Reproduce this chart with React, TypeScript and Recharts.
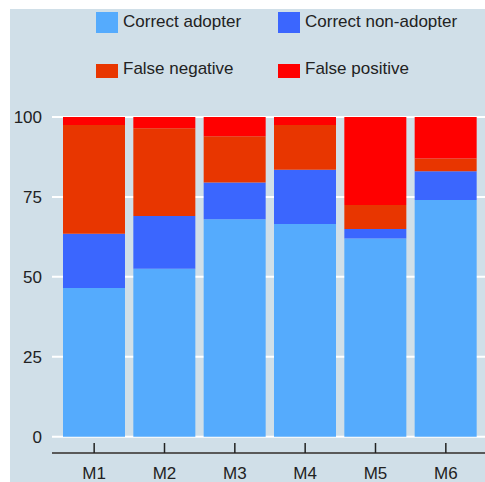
import React from 'react';
import { BarChart, Bar, XAxis, YAxis, CartesianGrid, Legend } from 'recharts';

const categories = ['M1', 'M2', 'M3', 'M4', 'M5', 'M6'];
const correctAdopter = [46.5, 52.5, 68, 66.5, 62, 74];
const correctNonAdopter = [17, 16.5, 11.5, 17, 3, 9];
const falseNegative = [34, 27.5, 14.5, 14, 7.5, 4];
const falsePositive = [2.5, 3.5, 6, 2.5, 27.5, 13];
const yTicks = [0, 25, 50, 75, 100];

const seriesNames = ['Correct adopter', 'Correct non-adopter', 'False negative', 'False positive'];
const seriesKeys = ['ca', 'cna', 'fn', 'fp'];
const seriesColors = ['#55abfd', '#3b66fe', '#e83600', '#ff0000'];

const data = categories.map((c, i) => ({
  name: c,
  ca: correctAdopter[i],
  cna: correctNonAdopter[i],
  fn: falseNegative[i],
  fp: falsePositive[i],
}));

const FONT = '"Liberation Sans", Arial, sans-serif';

const legendPos = [
  { sx: 86, sy: 3, sw: 22, sh: 21, tx: 113, ty: 13 },
  { sx: 268, sy: 3, sw: 22, sh: 21, tx: 295, ty: 13 },
  { sx: 86, sy: 55, sw: 22, sh: 14, tx: 113, ty: 60 },
  { sx: 268, sy: 55, sw: 22, sh: 14, tx: 295, ty: 60 },
];

const renderLegend = () => (
  <div style={{ position: 'relative', width: 475, height: 90, fontFamily: FONT }}>
    {seriesNames.map((n, i) => {
      const p = legendPos[i];
      return (
        <React.Fragment key={n}>
          <div
            style={{
              position: 'absolute',
              left: p.sx,
              top: p.sy,
              width: p.sw,
              height: p.sh,
              background: seriesColors[i],
            }}
          />
          <div
            style={{
              position: 'absolute',
              left: p.tx,
              top: p.ty - 10,
              height: 20,
              lineHeight: '20px',
              fontSize: 17,
              color: '#222',
              whiteSpace: 'nowrap',
            }}
          >
            {n}
          </div>
        </React.Fragment>
      );
    })}
  </div>
);

const XTick = (props: any) => {
  const { x, y, payload } = props;
  return (
    <g>
      <line x1={x} x2={x} y1={y - 10} y2={y} stroke="#222" strokeWidth={1.5} />
      <text
        x={x}
        y={y + 20}
        textAnchor="middle"
        dominantBaseline="central"
        fontSize={17}
        fontFamily={FONT}
        fill="#222"
      >
        {payload.value}
      </text>
    </g>
  );
};

export default function App() {
  return (
    <div
      style={{
        position: 'absolute',
        left: 10,
        top: 9,
        width: 475,
        height: 473,
        background: '#d0dfe8',
      }}
    >
      <BarChart
        width={475}
        height={473}
        data={data}
        margin={{ top: 18, right: 0, bottom: 0, left: 0 }}
        barCategoryGap={4}
      >
        <CartesianGrid vertical={false} stroke="#ffffff" strokeWidth={2} />
        <XAxis
          dataKey="name"
          height={29}
          padding={{ left: 7, right: 4 }}
          axisLine={{ stroke: '#222', strokeWidth: 1.5 }}
          tickLine={false}
          tickSize={0}
          tickMargin={0}
          tick={<XTick />}
          interval={0}
        />
        <YAxis
          width={42}
          type="number"
          domain={[-5.1, 100]}
          ticks={yTicks}
          allowDataOverflow
          axisLine={false}
          tickLine={false}
          tickSize={0}
          tickMargin={10}
          tick={{ fontSize: 17, fontFamily: FONT, fill: '#222' }}
        />
        <Legend
          verticalAlign="top"
          content={renderLegend}
          wrapperStyle={{ position: 'absolute', top: 0, left: 0, width: 475, height: 90 }}
        />
        {seriesKeys.map((k, i) => (
          <Bar
            key={k}
            dataKey={k}
            name={seriesNames[i]}
            stackId="a"
            fill={seriesColors[i]}
            isAnimationActive={false}
          />
        ))}
      </BarChart>
    </div>
  );
}
